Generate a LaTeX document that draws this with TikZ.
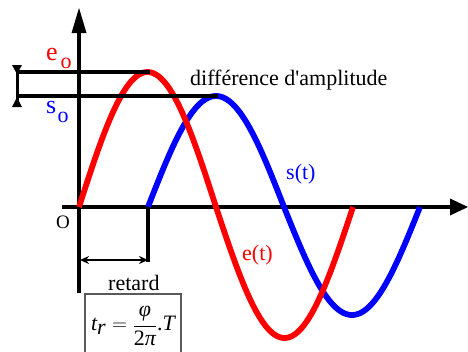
\documentclass[tikz,border=0pt]{standalone}
\usepackage{fontspec}
\setmainfont{Liberation Serif}
\usetikzlibrary{arrows.meta,calc}
\newcommand{\ittxt}[1]{\mbox{\itshape #1}}
\begin{document}
\begin{tikzpicture}[x=1pt,y=-1pt,
  axisline/.style={line width=3.5pt},
  guide/.style={line width=3.2pt},
  wave/.style={line width=5.8pt},
  lbl/.style={font=\fontsize{22}{26}\selectfont, inner sep=0pt, anchor=base west}]
\useasboundingbox (0,0) rectangle (468,351);
% key points
\coordinate (O) at (79,207);
\coordinate (ytop) at (79,8);
\coordinate (ybase) at (79,33);
\coordinate (ybot) at (79,293);
\coordinate (xleft) at (62,207);
\coordinate (xbase) at (450,207);
\coordinate (xtip) at (468,207);
\coordinate (epk) at (150,72);
\coordinate (spk) at (218,96);
\coordinate (ebar) at (17,72);
\coordinate (sbar) at (17,96);
\coordinate (bartop) at (17,66);
\coordinate (barbot) at (17,106);
\coordinate (s0) at (148,207);
\coordinate (rbot) at (148,262);
\coordinate (rl) at (80,260);
\coordinate (rr) at (148,260);
% axes
\draw[axisline] (ybot) -- (ybase);
\fill (ytop) -- ($(ybase)+(-7.5,0)$) -- ($(ybase)+(7.5,0)$) -- cycle;
\draw[axisline] (xleft) -- (xbase);
\fill (xtip) -- ($(xbase)+(0,-8.5)$) -- ($(xbase)+(0,8.5)$) -- cycle;
% waves
\draw[wave,blue] plot[domain=0:136,samples=80] ({148+\x},{207-111*sin(\x/272*360)})
  -- plot[domain=136:272,samples=80] ({148+\x},{207-108*sin(\x/272*360)});
\draw[wave,red] plot[domain=0:137,samples=80] ({79+\x},{207-135*sin(\x/274*360)})
  -- plot[domain=137:274,samples=80] ({79+\x},{207-131*sin(\x/274*360)});
% amplitude guides
\draw[guide] (ebar) -- (epk);
\draw[guide] (sbar) -- (spk);
\draw[line width=3pt] (bartop) -- (barbot);
\fill ($(bartop)+(-5,-1)$) -- ($(bartop)+(5,-1)$) -- ($(bartop)+(0,8)$) -- cycle;
\fill ($(barbot)+(-5,1)$) -- ($(barbot)+(5,1)$) -- ($(barbot)+(0,-9)$) -- cycle;
% retard
\draw[guide] (s0) -- (rbot);
\draw[line width=2.6pt,{Stealth[length=9pt,width=8pt]}-{Stealth[length=9pt,width=8pt]}] (rl) -- (rr);
% labels
\node[lbl,red,font=\fontsize{26}{28}\selectfont] (eo) at (46,60) {e};
\node[lbl,red,font=\fontsize{22}{24}\selectfont] (eosub) at (60.5,68) {o};
\node[lbl,blue,font=\fontsize{26}{28}\selectfont] (so) at (46,113) {s};
\node[lbl,blue,font=\fontsize{22}{24}\selectfont] (sosub) at (57.5,122) {o};
\node[lbl] (diff) at (190,85) {différence d\textquotesingle amplitude};
\node[lbl,blue] (st) at (286,179) {s(t)};
\node[lbl,red] (et) at (242,260) {e(t)};
\node[lbl,font=\fontsize{19}{22}\selectfont] (Olbl) at (56,228) {O};
\node[lbl] (ret) at (108,290) {retard};
% formula box
\draw[gray!70!black,line width=1.3pt] (85,352) -- (85,294) -- (181,294) -- (181,352);
\node[inner sep=0pt,font=\fontsize{22}{26}\selectfont] (form) at (133,326)
  {$\displaystyle \ittxt{t}_{\ittxt{r}}=\frac{\ittxt{φ}}{\mbox{2\itshape π}}\mbox{.\itshape T}$};
\end{tikzpicture}
\end{document}
